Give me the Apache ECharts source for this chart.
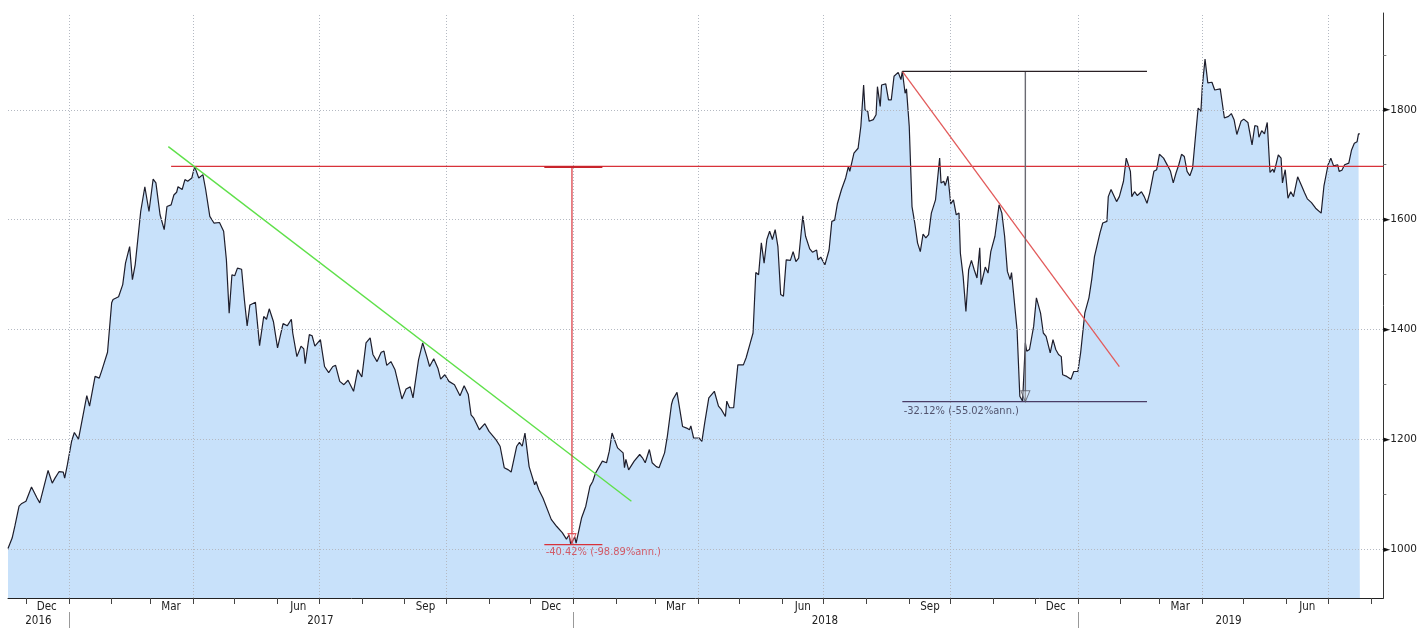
<!DOCTYPE html>
<html><head><meta charset="utf-8">
<script src="https://cdn.jsdelivr.net/npm/echarts@6/dist/echarts.min.js"></script>
<style>html,body{margin:0;padding:0;background:#fff}#c{width:1420px;height:628px}</style>
</head><body><div id="c"></div>
<script>
// ---------- price series ----------
const dates2016 = ['2016-11-18','2016-11-21','2016-11-23','2016-11-26','2016-11-28','2016-12-01','2016-12-05','2016-12-09','2016-12-11','2016-12-17','2016-12-20','2016-12-22','2016-12-25','2016-12-28','2016-12-29','2016-12-31'];
const values2016 = [1002,1021,1043,1079,1084,1088,1114,1094,1085,1144,1121,1130,1142,1141,1130,1155];

const dates2017 = ['2017-01-03','2017-01-05','2017-01-08','2017-01-14','2017-01-16','2017-01-20','2017-01-23','2017-01-25','2017-01-29','2017-02-01','2017-02-02','2017-02-06','2017-02-09','2017-02-11','2017-02-14','2017-02-16','2017-02-18','2017-02-22','2017-02-25','2017-02-28',
'2017-03-03','2017-03-05','2017-03-08','2017-03-09','2017-03-11','2017-03-13','2017-03-16','2017-03-18','2017-03-20','2017-03-21','2017-03-24','2017-03-26','2017-03-28','2017-03-31','2017-04-02','2017-04-05','2017-04-08','2017-04-10','2017-04-13','2017-04-16','2017-04-20','2017-04-23','2017-04-25','2017-04-27','2017-04-29',
'2017-05-01','2017-05-03','2017-05-06','2017-05-08','2017-05-10','2017-05-12','2017-05-16','2017-05-19','2017-05-22','2017-05-24','2017-05-26','2017-05-29','2017-06-01','2017-06-05','2017-06-08','2017-06-11','2017-06-12','2017-06-15','2017-06-18','2017-06-20','2017-06-21','2017-06-24','2017-06-26','2017-06-28',
'2017-07-02','2017-07-05','2017-07-08','2017-07-11','2017-07-13','2017-07-16','2017-07-19','2017-07-22','2017-07-26','2017-07-29','2017-08-01','2017-08-04','2017-08-07','2017-08-09','2017-08-12','2017-08-15','2017-08-17','2017-08-19','2017-08-22','2017-08-25','2017-08-30',
'2017-09-02','2017-09-05','2017-09-07','2017-09-11','2017-09-14','2017-09-17','2017-09-19','2017-09-22','2017-09-25','2017-09-27','2017-09-30','2017-10-03','2017-10-07','2017-10-11','2017-10-14','2017-10-17','2017-10-19','2017-10-21','2017-10-25','2017-10-29',
'2017-11-01','2017-11-06','2017-11-09','2017-11-12','2017-11-15','2017-11-17','2017-11-21','2017-11-23','2017-11-25','2017-11-27','2017-11-30','2017-12-04','2017-12-05','2017-12-07','2017-12-10','2017-12-16','2017-12-20','2017-12-24','2017-12-27','2017-12-29','2017-12-30'];
const values2017 = [1197,1213,1201,1280,1261,1315,1312,1327,1359,1449,1455,1460,1482,1521,1551,1491,1518,1615,1660,1615,
1674,1667,1609,1612,1582,1624,1627,1645,1650,1660,1655,1673,1670,1676,1697,1676,1682,1655,1606,1594,1595,1579,1527,1430,1500,
1498,1512,1510,1455,1407,1445,1450,1371,1424,1419,1438,1415,1367,1411,1407,1419,1394,1351,1370,1365,1338,1391,1389,1370,
1382,1333,1322,1333,1335,1306,1300,1308,1288,1327,1314,1376,1385,1355,1342,1359,1361,1335,1342,1327,1274,
1292,1296,1276,1345,1376,1351,1333,1347,1330,1310,1318,1306,1300,1280,1298,1282,1245,1239,1218,1229,
1215,1200,1188,1149,1145,1141,1188,1195,1188,1212,1151,1118,1124,1109,1094,1055,1042,1031,1019,1027,1011];

const dates2018 = ['2018-01-02','2018-01-03','2018-01-07','2018-01-10','2018-01-13','2018-01-15','2018-01-17','2018-01-22','2018-01-25','2018-01-27','2018-01-29','2018-02-02','2018-02-06','2018-02-07','2018-02-08','2018-02-10','2018-02-14','2018-02-18','2018-02-20','2018-02-22','2018-02-25','2018-02-27',
'2018-03-02','2018-03-04','2018-03-08','2018-03-10','2018-03-13','2018-03-14','2018-03-17','2018-03-19','2018-03-21','2018-03-24','2018-03-26','2018-03-27','2018-03-29','2018-04-02','2018-04-04','2018-04-06','2018-04-09','2018-04-13','2018-04-16','2018-04-18','2018-04-21','2018-04-22','2018-04-24','2018-04-27','2018-04-28','2018-04-30',
'2018-05-04','2018-05-06','2018-05-09','2018-05-11','2018-05-12','2018-05-13','2018-05-15','2018-05-17','2018-05-19','2018-05-21','2018-05-23','2018-05-25','2018-05-27','2018-05-29','2018-05-31','2018-06-02','2018-06-04','2018-06-07','2018-06-09','2018-06-11','2018-06-13','2018-06-16','2018-06-18','2018-06-21','2018-06-23','2018-06-26','2018-06-27','2018-06-29',
'2018-07-02','2018-07-05','2018-07-07','2018-07-09','2018-07-11','2018-07-14','2018-07-17','2018-07-19','2018-07-20','2018-07-23','2018-07-26','2018-07-28','2018-07-30','2018-07-31','2018-08-02','2018-08-03','2018-08-06','2018-08-08','2018-08-09','2018-08-11','2018-08-12','2018-08-15','2018-08-17','2018-08-19','2018-08-21','2018-08-24','2018-08-26','2018-08-27','2018-08-29','2018-08-30',
'2018-09-01','2018-09-03','2018-09-05','2018-09-07','2018-09-09','2018-09-11','2018-09-13','2018-09-15','2018-09-17','2018-09-20','2018-09-23','2018-09-24','2018-09-26','2018-09-27','2018-09-29','2018-10-01','2018-10-03','2018-10-05','2018-10-07','2018-10-08','2018-10-10','2018-10-12','2018-10-14','2018-10-16','2018-10-18','2018-10-20','2018-10-22','2018-10-23','2018-10-26','2018-10-28','2018-10-30',
'2018-11-02','2018-11-05','2018-11-07','2018-11-09','2018-11-11','2018-11-13','2018-11-14','2018-11-15','2018-11-18','2018-11-20','2018-11-22','2018-11-24','2018-11-25','2018-11-27','2018-11-30','2018-12-02','2018-12-05','2018-12-07','2018-12-09','2018-12-12','2018-12-14','2018-12-16','2018-12-18','2018-12-20','2018-12-21','2018-12-24','2018-12-27','2018-12-29'];
const values2018 = [1023,1012,1058,1079,1115,1124,1139,1161,1158,1179,1212,1185,1176,1149,1164,1145,1161,1173,1167,1158,1182,1158,
1151,1149,1176,1206,1264,1273,1286,1255,1224,1221,1218,1225,1203,1203,1197,1230,1276,1288,1261,1255,1242,1270,1258,1258,1285,1336,
1336,1349,1376,1394,1449,1504,1500,1558,1521,1564,1579,1564,1582,1551,1464,1461,1527,1526,1542,1524,1530,1607,1570,1547,1541,1545,1527,1532,
1518,1545,1597,1599,1629,1655,1676,1697,1688,1721,1730,1770,1845,1800,1797,1779,1782,1791,1842,1806,1845,1847,1818,1818,1861,1868,1855,1870,1830,1838,
1770,1624,1594,1558,1542,1574,1567,1573,1612,1636,1712,1667,1670,1662,1679,1629,1636,1609,1612,1539,1497,1433,1509,1526,1509,1494,1549,1482,1514,1503,1542,
1570,1627,1612,1570,1506,1491,1504,1478,1400,1279,1270,1376,1361,1364,1406,1458,1430,1394,1388,1358,1382,1364,1355,1351,1318,1315,1310,1324];

const dates2019 = ['2019-01-01','2019-01-03','2019-01-06','2019-01-09','2019-01-11','2019-01-13','2019-01-17','2019-01-18','2019-01-19','2019-01-22','2019-01-23','2019-01-25','2019-01-29','2019-01-31','2019-02-03','2019-02-05','2019-02-08','2019-02-09','2019-02-11','2019-02-13','2019-02-16','2019-02-18','2019-02-20','2019-02-22','2019-02-25','2019-02-27',
'2019-03-01','2019-03-04','2019-03-07','2019-03-09','2019-03-11','2019-03-13','2019-03-15','2019-03-17','2019-03-19','2019-03-21','2019-03-23','2019-03-25','2019-03-27','2019-03-29','2019-03-31','2019-04-01','2019-04-03','2019-04-05','2019-04-08','2019-04-10','2019-04-14','2019-04-17','2019-04-20','2019-04-22','2019-04-24','2019-04-26','2019-04-29',
'2019-05-01','2019-05-04','2019-05-07','2019-05-09','2019-05-11','2019-05-12','2019-05-14','2019-05-16','2019-05-18','2019-05-20','2019-05-22','2019-05-23','2019-05-26','2019-05-28','2019-05-29','2019-05-31','2019-06-02','2019-06-04','2019-06-06','2019-06-09','2019-06-12','2019-06-14','2019-06-16','2019-06-19','2019-06-22','2019-06-26','2019-06-28',
'2019-07-01','2019-07-03','2019-07-05','2019-07-08','2019-07-09','2019-07-11','2019-07-13','2019-07-16','2019-07-18','2019-07-20','2019-07-22','2019-07-23','2019-07-24'];
const values2019 = [1324,1358,1430,1458,1491,1533,1576,1579,1594,1597,1642,1655,1633,1642,1670,1712,1688,1642,1651,1644,1651,1642,1630,1649,1688,1691,
1719,1712,1698,1688,1667,1685,1700,1719,1715,1688,1680,1694,1749,1803,1797,1842,1892,1849,1850,1836,1838,1785,1788,1793,1782,1755,1779,
1783,1777,1736,1771,1770,1750,1762,1756,1777,1686,1692,1686,1718,1712,1667,1691,1639,1651,1642,1678,1661,1649,1638,1631,1621,1612,1661,
1700,1712,1698,1700,1688,1690,1700,1703,1727,1739,1742,1756,1756];

// ---------- axes ----------
const xRange = ['2016-11-18', '2019-08-10'];
const yRange = [912, 1976];
const yLabelValues = [1000, 1200, 1400, 1600, 1800];
const yMinorTicks = [1100, 1300, 1500, 1700, 1900];
const quarterGrid = ['2017-01-01','2017-04-01','2017-07-01','2017-10-01','2018-01-01','2018-04-01','2018-07-01','2018-10-01','2019-01-01','2019-04-01','2019-07-01'];
const monthTicks = ['2016-12-01','2017-01-01','2017-02-01','2017-03-01','2017-04-01','2017-05-01','2017-06-01','2017-07-01','2017-08-01','2017-09-01','2017-10-01','2017-11-01','2017-12-01',
'2018-01-01','2018-02-01','2018-03-01','2018-04-01','2018-05-01','2018-06-01','2018-07-01','2018-08-01','2018-09-01','2018-10-01','2018-11-01','2018-12-01',
'2019-01-01','2019-02-01','2019-03-01','2019-04-01','2019-05-01','2019-06-01','2019-07-01','2019-08-01'];
const monthLabelDates = ['2016-12-16','2017-03-16','2017-06-16','2017-09-16','2017-12-16','2018-03-16','2018-06-16','2018-09-16','2018-12-16','2019-03-16','2019-06-16'];
const monthLabelText = ['Dec','Mar','Jun','Sep','Dec','Mar','Jun','Sep','Dec','Mar','Jun'];
const yearTicks = ['2017-01-01','2018-01-01','2019-01-01'];
const yearLabelDates = ['2016-12-10','2017-07-02','2018-07-02','2019-04-20'];
const yearLabelText = ['2016','2017','2018','2019'];

// ---------- annotations ----------
const resistDates = ['2017-03-16','2019-08-10'];   const resistValues = [1697, 1697];
const greenDates = ['2017-03-14','2018-02-12'];    const greenValues = [1733, 1088];
const redTrendDates = ['2018-08-27','2019-01-31']; const redTrendValues = [1870, 1333];
// drawdown 1
const dd1VertDates = ['2017-12-31','2017-12-31']; const dd1VertValues = [1696, 1011];
const dd1CapDates = ['2017-12-11','2018-01-22'];  const dd1TopValues = [1696, 1696]; const dd1BotValues = [1009, 1009];
const dd1LabelDate = '2017-12-12'; const dd1LabelValue = 995; const dd1Text = '-40.42% (-98.89%ann.)';
// drawdown 2
const dd2VertDates = ['2018-11-24','2018-11-24']; const dd2VertValues = [1870, 1269];
const dd2CapDates = ['2018-08-27','2019-02-20'];  const dd2TopValues = [1870, 1870]; const dd2BotValues = [1269, 1269];
const dd2LabelDate = '2018-08-28'; const dd2LabelValue = 1251; const dd2Text = '-32.12% (-55.02%ann.)';

function ts(s) { const p = s.split('-').map(Number); return new Date(p[0], p[1] - 1, p[2]).getTime(); }
function pairs(ds, vs) { return ds.map((d, i) => [ts(d), vs[i]]); }

const allDates = dates2016.concat(dates2017, dates2018, dates2019);
const allValues = values2016.concat(values2017, values2018, values2019);
const priceData = pairs(allDates, allValues);

const monthLabelTs = monthLabelDates.map(ts);
const yearLabelTs = yearLabelDates.map(ts);
const FONT_C = "'DejaVu Sans Condensed', 'Liberation Sans Narrow', 'DejaVu Sans', sans-serif";

function nearestIndex(arr, v) {
  let best = 0;
  for (let i = 1; i < arr.length; i++) if (Math.abs(arr[i] - v) < Math.abs(arr[best] - v)) best = i;
  return best;
}
function segment(ds, vs, color, width, extra) {
  return Object.assign({
    type: 'line', data: pairs(ds, vs), symbol: 'none', silent: true, z: 6,
    lineStyle: { color: color, width: width }
  }, extra || {});
}
const arrowPath = 'path://M0,0 L10,0 L5,12 Z';

const chart = echarts.init(document.getElementById('c'), null, { renderer: 'canvas' });
chart.setOption({
  animation: false,
  backgroundColor: '#ffffff',
  grid: { left: 8, right: 34, top: 13, bottom: 30, containLabel: false },
  xAxis: [
    {
      type: 'value', min: ts(xRange[0]), max: ts(xRange[1]), position: 'bottom',
      axisLine: { show: true, onZero: false, lineStyle: { color: '#222', width: 1 } },
      axisTick: { show: true, customValues: monthTicks.map(ts), length: 6, lineStyle: { color: '#444' } },
      axisLabel: {
        show: true, customValues: monthLabelTs, margin: 3, fontSize: 11.5, fontFamily: FONT_C, color: '#222',
        formatter: function (v) { return monthLabelText[nearestIndex(monthLabelTs, v)]; }
      },
      splitLine: { show: false }
    },
    {
      type: 'value', min: ts(xRange[0]), max: ts(xRange[1]), position: 'bottom', offset: 14,
      axisLine: { show: false, onZero: false },
      axisTick: { show: true, customValues: yearTicks.map(ts), length: 16, lineStyle: { color: '#999' } },
      axisLabel: {
        show: true, customValues: yearLabelTs, margin: 3, fontSize: 11.5, fontFamily: FONT_C, color: '#222',
        formatter: function (v) { return yearLabelText[nearestIndex(yearLabelTs, v)]; }
      },
      splitLine: { show: false }
    }
  ],
  yAxis: [
    {
      type: 'value', position: 'right', min: yRange[0], max: yRange[1],
      axisLine: { show: true, onZero: false, lineStyle: { color: '#333', width: 1 } },
      axisTick: { show: true, customValues: yMinorTicks, length: 3, lineStyle: { color: '#777' } },
      axisLabel: {
        show: true, customValues: yLabelValues, margin: 0,
        formatter: function (v) { return '{t|\u25BA}{v|' + v + '}'; },
        rich: {
          t: { fontSize: 9, color: '#111', fontFamily: 'DejaVu Sans' },
          v: { fontSize: 10.5, color: '#222', fontFamily: 'DejaVu Sans' }
        }
      },
      splitLine: { show: false }
    }
  ],
  series: [
    {
      type: 'line', name: 'price', data: priceData, symbol: 'none', z: 2,
      lineStyle: { color: '#1e1e2c', width: 1.2 },
      areaStyle: { color: '#c8e1fa', opacity: 1 },
      markLine: {
        silent: true, symbol: ['none', 'none'], label: { show: false }, z: 3,
        lineStyle: { color: '#b4b9c2', width: 1, type: [1, 2] },
        data: quarterGrid.map(d => ({ xAxis: ts(d) })).concat(yLabelValues.map(v => ({ yAxis: v })))
      }
    },
    segment(resistDates, resistValues, '#d8323a', 1.2),
    segment(greenDates, greenValues, '#5fe04a', 1.4),
    segment(redTrendDates, redTrendValues, '#e25a5a', 1.3),
    segment(dd1VertDates, dd1VertValues, '#d8323a', 1.2),
    segment(dd1CapDates, dd1TopValues, '#c8242c', 2),
    segment(dd1CapDates, dd1BotValues, '#d8323a', 1.2),
    segment(dd2VertDates, dd2VertValues, '#6a6a72', 1.4),
    segment(dd2CapDates, dd2TopValues, '#2a2024', 1.2),
    segment(dd2CapDates, dd2BotValues, '#4a3d66', 1.2),
    {
      type: 'scatter', silent: true, z: 7,
      data: [[ts(dd1VertDates[1]), dd1VertValues[1]]],
      symbol: arrowPath, symbolSize: [8, 10], symbolOffset: [0, '-50%'],
      itemStyle: { color: 'rgba(255,255,255,0.4)', borderColor: '#d8323a', borderWidth: 1 }
    },
    {
      type: 'scatter', silent: true, z: 7,
      data: [[ts(dd2VertDates[1]), dd2VertValues[1]]],
      symbol: arrowPath, symbolSize: [9, 11], symbolOffset: [0, '-50%'],
      itemStyle: { color: 'rgba(255,255,255,0.4)', borderColor: '#555560', borderWidth: 1 }
    },
    {
      type: 'scatter', silent: true, z: 7, symbolSize: 0,
      data: [[ts(dd1LabelDate), dd1LabelValue]],
      label: { show: true, position: 'right', distance: 0, formatter: dd1Text, color: '#d33a44', fontSize: 11, fontFamily: FONT_C }
    },
    {
      type: 'scatter', silent: true, z: 7, symbolSize: 0,
      data: [[ts(dd2LabelDate), dd2LabelValue]],
      label: { show: true, position: 'right', distance: 0, formatter: dd2Text, color: '#33304a', fontSize: 11, fontFamily: FONT_C }
    }
  ]
});
</script>
</body></html>
